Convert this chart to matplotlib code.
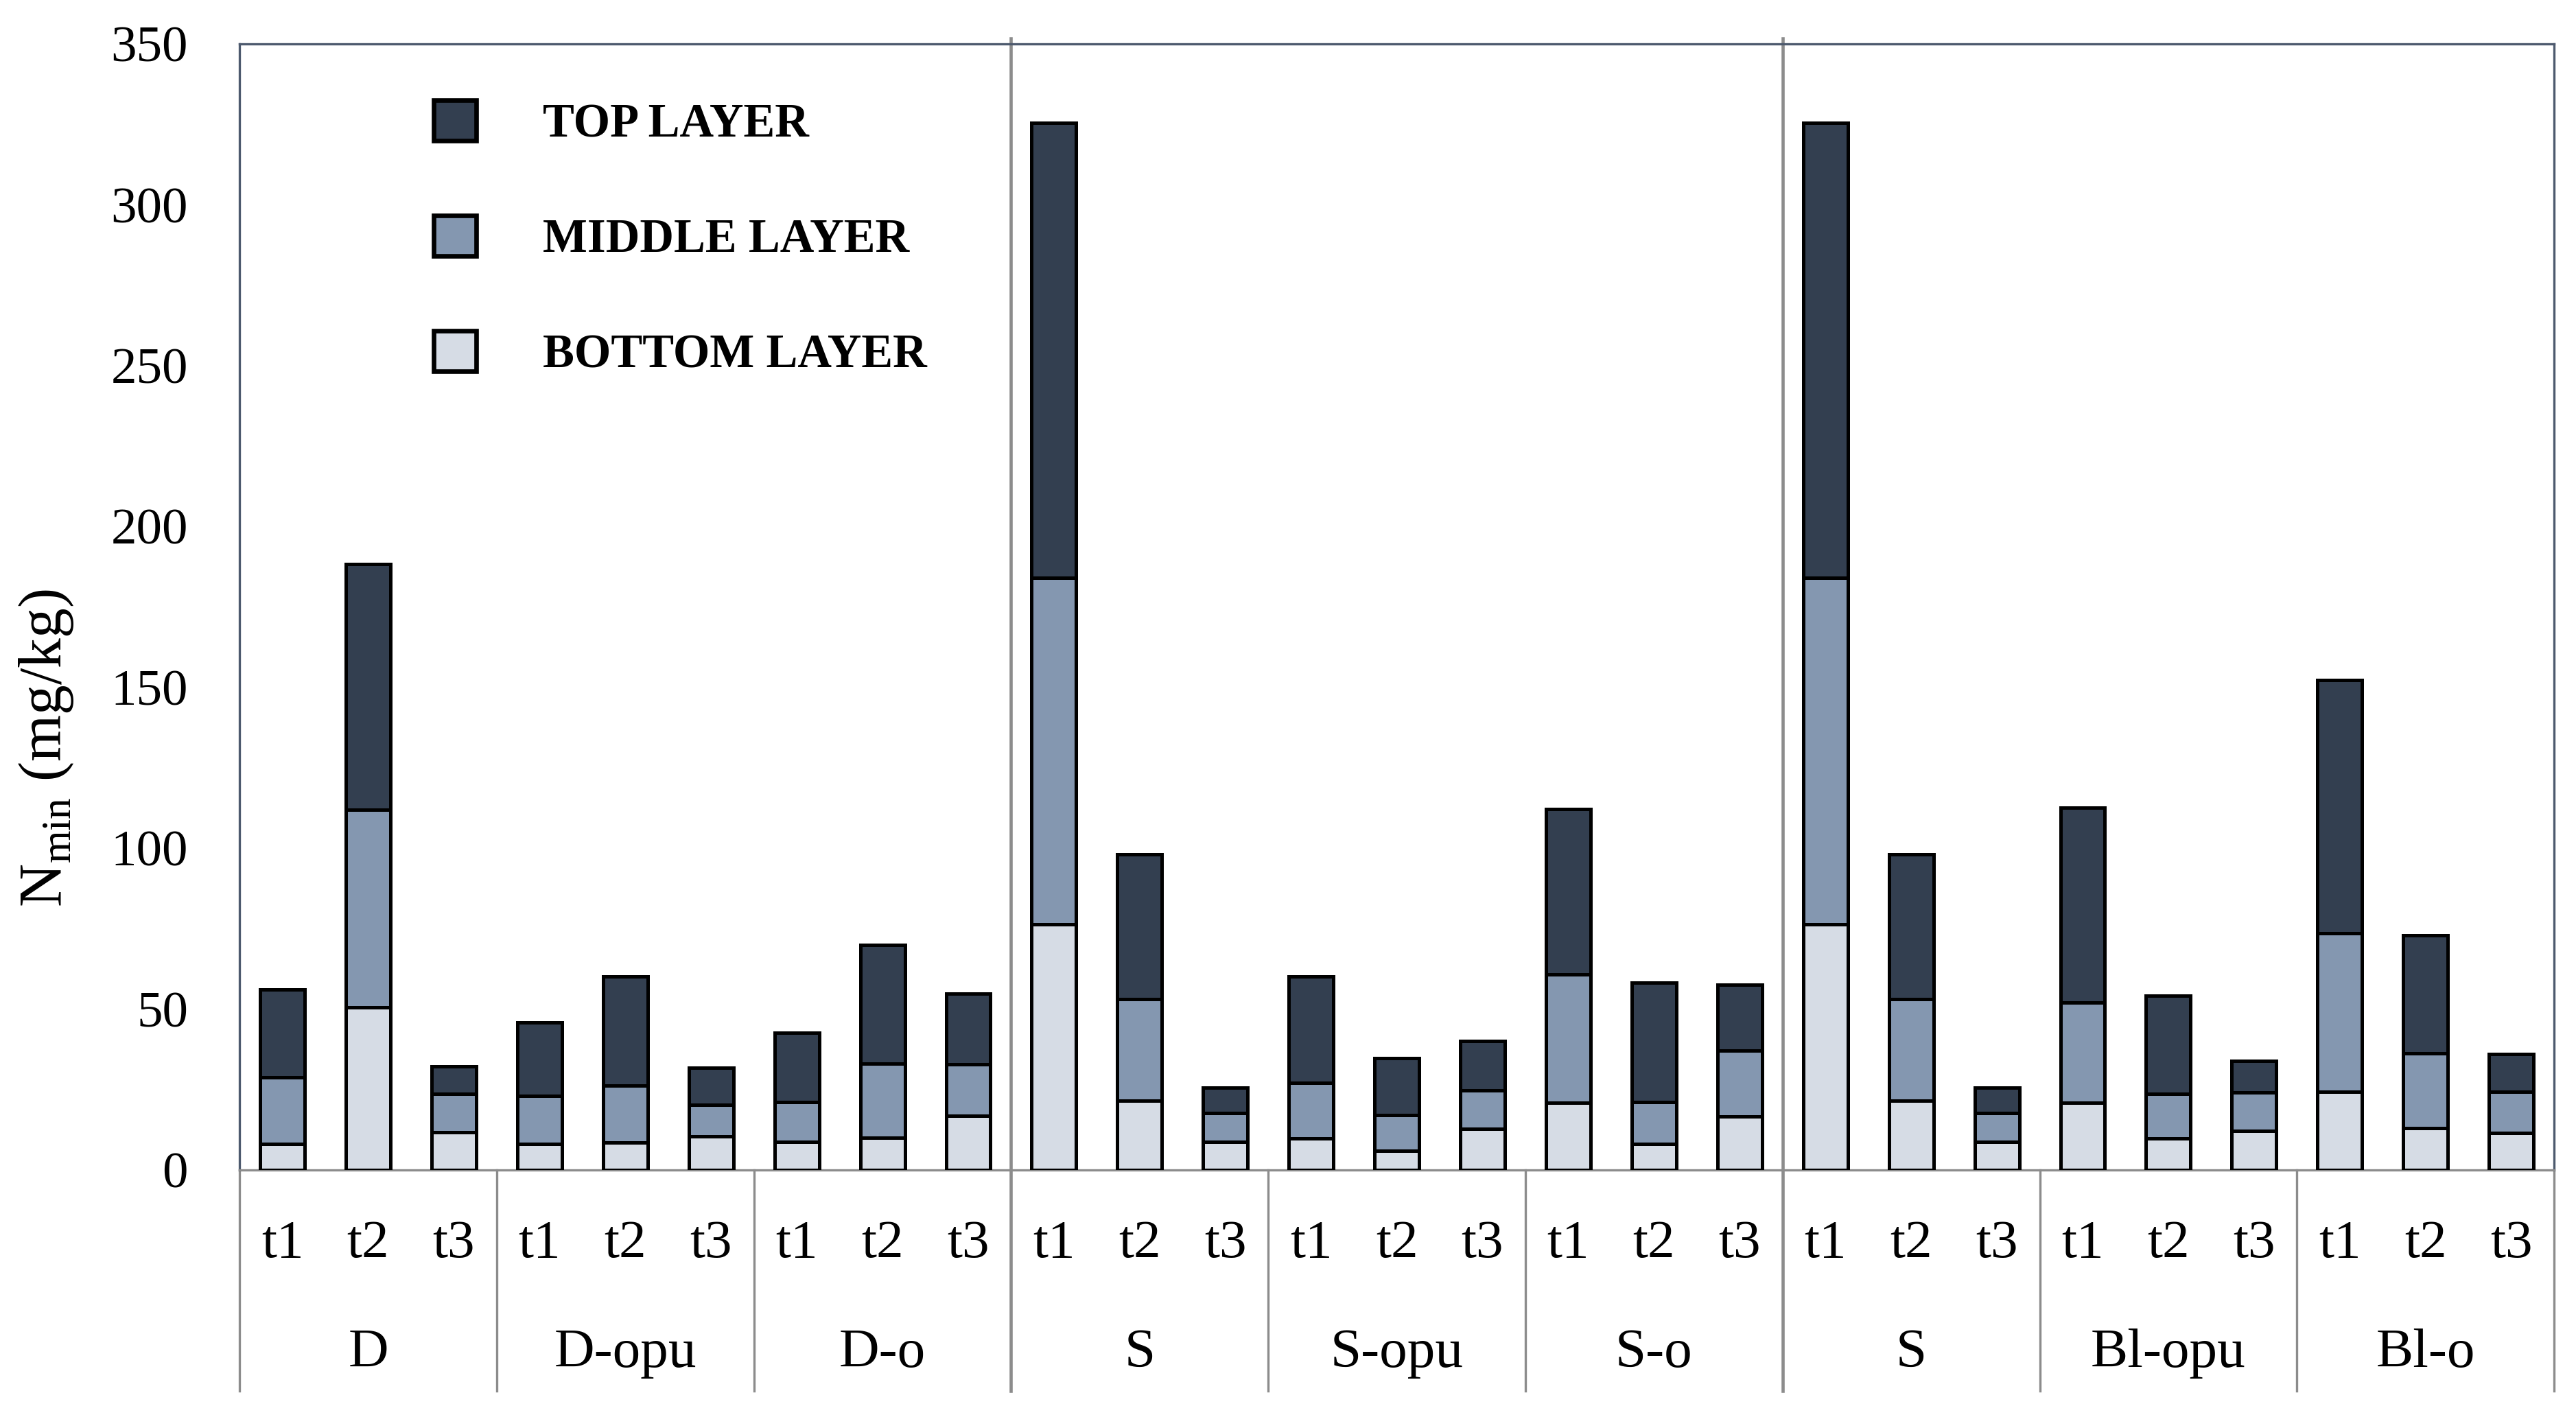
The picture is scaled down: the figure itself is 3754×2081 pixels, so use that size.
import numpy as np
import matplotlib
matplotlib.use("Agg")
import matplotlib.pyplot as plt
from matplotlib.patches import Patch
import matplotlib.transforms as mtransforms

plt.rcParams['font.family'] = ['Liberation Serif', 'DejaVu Serif']
plt.rcParams['mathtext.fontset'] = 'custom'
plt.rcParams['mathtext.rm'] = 'Liberation Serif'

# data (mg/kg per layer)
groups = ['D', 'D-opu', 'D-o', 'S', 'S-opu', 'S-o', 'S', 'Bl-opu', 'Bl-o']
times = ['t1', 't2', 't3']
bottom_layer = [8.1, 50.5, 11.8, 8.1, 8.5, 10.5, 8.8, 10.0, 16.8,
                76.3, 21.6, 8.8, 9.9, 6.0, 12.7, 20.9, 8.2, 16.6,
                76.3, 21.6, 8.8, 20.9, 9.9, 12.2, 24.3, 13.1, 11.5]
middle_layer = [20.6, 61.5, 11.9, 14.9, 17.7, 9.8, 12.4, 23.1, 16.0,
                107.7, 31.6, 8.9, 17.1, 11.1, 12.0, 39.8, 13.0, 20.4,
                107.7, 31.6, 8.9, 31.1, 13.8, 11.8, 49.2, 23.1, 12.9]
top_layer = [27.3, 76.4, 8.4, 22.9, 33.9, 11.4, 21.5, 36.9, 22.0,
             141.5, 44.9, 7.9, 33.2, 17.7, 15.4, 51.4, 37.1, 20.6,
             141.5, 44.9, 7.9, 60.7, 30.5, 10.0, 78.7, 36.8, 11.7]

c_top = '#333f50'
c_mid = '#8497b0'
c_bot = '#d6dce5'
frame_col = '#4d5a6e'
sep_col = '#8c8c8c'

x = np.arange(len(bottom_layer))
bot = np.array(bottom_layer)
mid = np.array(middle_layer)
top = np.array(top_layer)

fig = plt.figure(figsize=(3754 / 300, 2081 / 300), dpi=300)
ax = fig.add_axes([0.0930, 0.1807, 0.8985, 0.7886])

w = 0.52
ax.bar(x, bot, w, color=c_bot, edgecolor='black', linewidth=1.2, zorder=3)
ax.bar(x, mid, w, bottom=bot, color=c_mid, edgecolor='black', linewidth=1.2, zorder=3)
ax.bar(x, top, w, bottom=bot + mid, color=c_top, edgecolor='black', linewidth=1.2, zorder=3)

ax.set_xlim(-0.5, len(x) - 0.5)
ax.set_ylim(0, 350)
ax.set_yticks(np.arange(0, 351, 50))
ax.tick_params(axis='y', length=0, pad=18, labelsize=18)
ax.tick_params(axis='x', length=0, pad=0)

ax.set_xticks(x)
ax.set_xticklabels([])

for s in ['left', 'top', 'right']:
    ax.spines[s].set_color(frame_col)
    ax.spines[s].set_linewidth(0.8)
ax.spines['bottom'].set_color(sep_col)
ax.spines['bottom'].set_linewidth(0.8)

trans = mtransforms.blended_transform_factory(ax.transData, ax.transAxes)
for i in x:
    ax.text(i, -0.066, times[i % 3], transform=trans, ha='center', va='center', fontsize=19)
for g, name in enumerate(groups):
    ax.text(3 * g + 1, -0.163, name, transform=trans, ha='center', va='center', fontsize=19.5)

# category separators below the axis, longer ones between the three blocks
for k in range(len(groups) + 1):
    xs = 3 * k - 0.5
    if k in (3, 6):
        ax.plot([xs, xs], [-0.196, 1.005], transform=trans, color=sep_col, lw=1.1,
                clip_on=False, zorder=2)
    else:
        ax.plot([xs, xs], [-0.196, 0], transform=trans, color=sep_col, lw=0.8,
                clip_on=False, zorder=2)

fig.text(0.018, 1 - 1090 / 2081, r'N$_{\mathrm{min}}$ (mg/kg)', rotation=90,
         ha='center', va='center', fontsize=21)

handles = [Patch(facecolor=c_top, edgecolor='black', linewidth=1.6),
           Patch(facecolor=c_mid, edgecolor='black', linewidth=1.6),
           Patch(facecolor=c_bot, edgecolor='black', linewidth=1.6)]
leg = ax.legend(handles, ['TOP LAYER', 'MIDDLE LAYER', 'BOTTOM LAYER'],
                loc='upper left', bbox_to_anchor=(0.084, 0.950), frameon=False,
                prop={'weight': 'bold', 'size': 16.5}, handlelength=0.9,
                handleheight=0.95, handletextpad=1.4, labelspacing=1.45,
                borderpad=0, borderaxespad=0)

fig.savefig('out.png', dpi=300)
